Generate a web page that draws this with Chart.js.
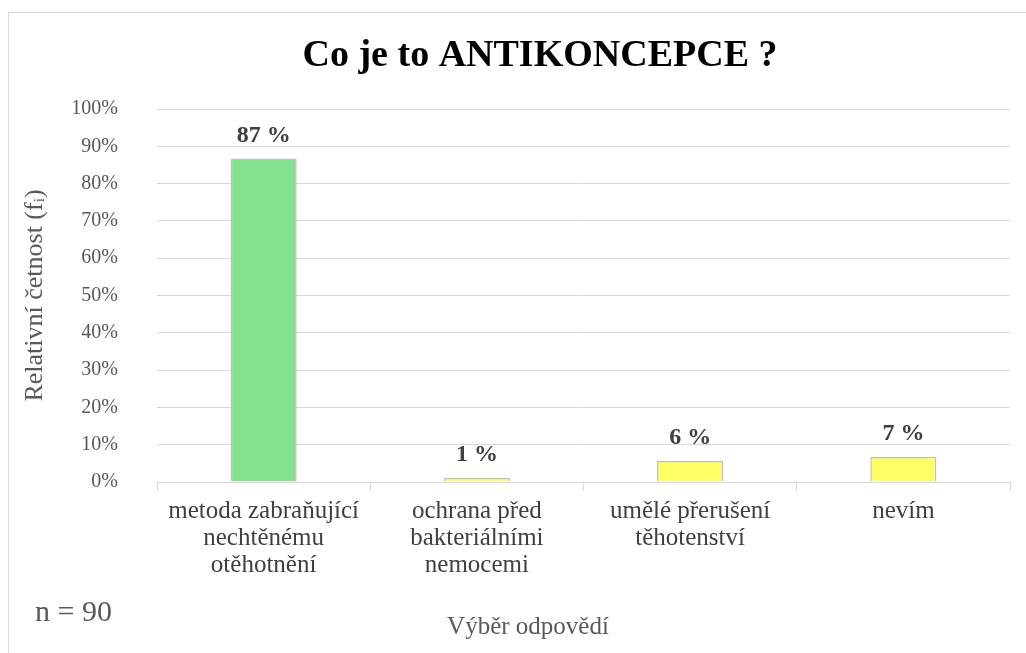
<!DOCTYPE html>
<html>
<head>
<meta charset="utf-8">
<script src="https://cdn.jsdelivr.net/npm/chart.js@4.4.0/dist/chart.umd.min.js"></script>
<style>
    html, body { margin: 0; padding: 0; background: #fff; }
    #wrap { width: 1026px; height: 653px; position: relative; }
</style>
</head>
<body>
<div id="wrap"><canvas id="chart" width="1026" height="653"></canvas></div>
<script>
// Data
const categories = [
    ['metoda zabraňující', 'nechtěnému', 'otěhotnění'],
    ['ochrana před', 'bakteriálními', 'nemocemi'],
    ['umělé přerušení', 'těhotenství'],
    ['nevím']
];
const shares = [86.7, 1.1, 5.6, 6.7];
const barColors = ['#84e28f', '#ffff66', '#ffff66', '#ffff66'];
const yTicks = [0, 10, 20, 30, 40, 50, 60, 70, 80, 90, 100];

const chartTitle = 'Co je to ANTIKONCEPCE ?';
const xTitle = 'Výběr odpovědí';
const sampleNote = 'n = 90';

const SERIF = '"Liberation Serif", "Times New Roman", serif';

// Frame, title, axis title, note and value labels
const decorPlugin = {
    id: 'decor',
    beforeDraw(chart) {
        const ctx = chart.ctx;
        ctx.save();
        ctx.fillStyle = '#fff';
        ctx.fillRect(0, 0, chart.width, chart.height);
        ctx.strokeStyle = '#d9d9d9';
        ctx.lineWidth = 1;
        ctx.strokeRect(8.5, 12.5, chart.width + 20, chart.height + 20);
        ctx.restore();
    },
    afterDraw(chart) {
        const ctx = chart.ctx;
        ctx.save();
        ctx.textAlign = 'center';
        ctx.textBaseline = 'middle';
        ctx.fillStyle = '#000';
        ctx.font = 'bold 38px ' + SERIF;
        ctx.fillText(chartTitle, 540, 56);

        ctx.fillStyle = '#595959';
        ctx.font = '25px ' + SERIF;
        ctx.fillText(xTitle, 528, 627);

        ctx.textAlign = 'left';
        ctx.font = '30px ' + SERIF;
        ctx.fillText(sampleNote, 35, 613);

        ctx.textAlign = 'center';
        ctx.textBaseline = 'alphabetic';
        ctx.fillStyle = '#404040';
        ctx.font = 'bold 24px ' + SERIF;
        const meta = chart.getDatasetMeta(0);
        meta.data.forEach((bar, i) => {
            ctx.fillText(Math.round(shares[i]) + ' %', bar.x, bar.y - 17);
        });
        ctx.restore();
    }
};

new Chart(document.getElementById('chart'), {
    type: 'bar',
    data: {
        labels: categories,
        datasets: [{
            data: shares,
            backgroundColor: barColors,
            borderColor: '#bfbfbf',
            borderWidth: 1.5,
            borderSkipped: 'bottom',
            categoryPercentage: 1,
            barPercentage: 0.31
        }]
    },
    options: {
        responsive: false,
        animation: false,
        layout: { padding: { top: 109, left: 20, right: 16, bottom: 12 } },
        plugins: {
            legend: { display: false },
            tooltip: { enabled: false },
            title: { display: false }
        },
        scales: {
            x: {
                grid: {
                    drawOnChartArea: false,
                    drawTicks: true,
                    tickLength: 9,
                    color: '#d9d9d9',
                    offset: true
                },
                border: { color: '#d9d9d9', width: 1 },
                ticks: {
                    color: '#404040',
                    padding: 7,
                    maxRotation: 0,
                    autoSkip: false,
                    font: { family: SERIF, size: 25, lineHeight: 1.08 }
                },
                afterFit(scale) { scale.height = 159; }
            },
            y: {
                min: 0,
                max: 100,
                afterBuildTicks(scale) {
                    scale.ticks = yTicks.map(v => ({ value: v }));
                },
                grid: {
                    color: '#d9d9d9',
                    drawTicks: false
                },
                border: { display: false },
                ticks: {
                    color: '#595959',
                    padding: 39,
                    font: { family: SERIF, size: 20 },
                    callback: v => v + '%'
                },
                title: {
                    display: true,
                    text: 'Relativní četnost (fᵢ)',
                    color: '#595959',
                    font: { family: SERIF, size: 26 },
                    padding: { top: 0, bottom: 0 }
                },
                afterFit(scale) { scale.width = 137; }
            }
        }
    },
    plugins: [decorPlugin]
});
</script>
</body>
</html>
